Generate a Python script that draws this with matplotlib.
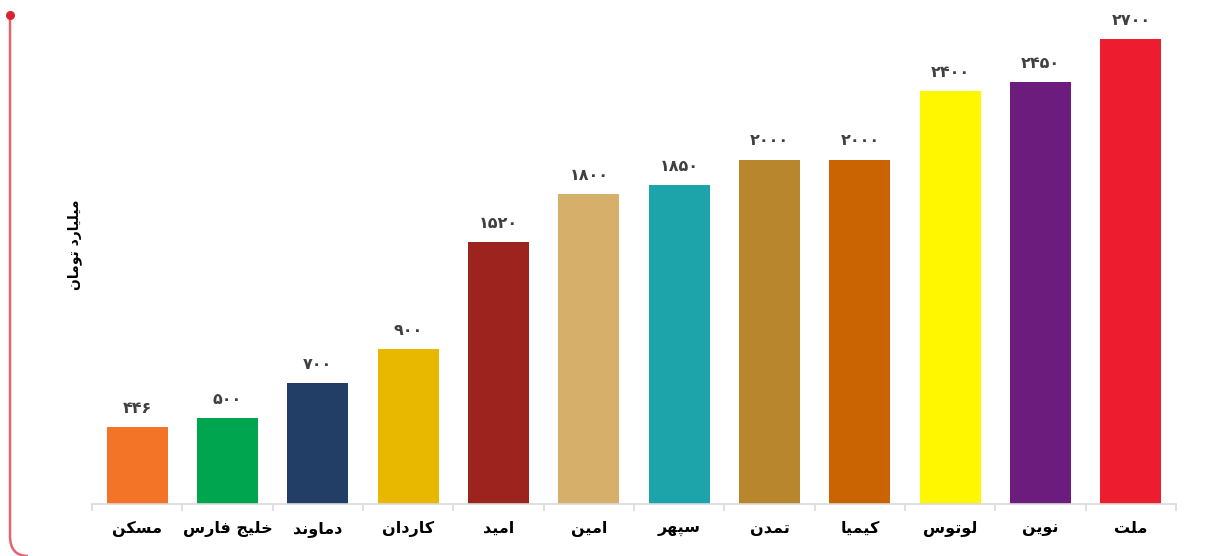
import matplotlib
matplotlib.use("Agg")
import matplotlib.pyplot as plt
from matplotlib.path import Path
from matplotlib.patches import PathPatch
from matplotlib.lines import Line2D
from matplotlib.ticker import FixedLocator

# ---------------- data ----------------
categories = ["مسکن", "خلیج فارس", "دماوند", "کاردان", "امید", "امین",
              "سپهر", "تمدن", "کیمیا", "لوتوس", "نوین", "ملت"]
values = [446, 500, 700, 900, 1520, 1800, 1850, 2000, 2000, 2400, 2450, 2700]
colors = ["#F37327", "#00A550", "#233E66", "#E8B800", "#9C231E", "#D6B06A",
          "#1DA3AA", "#B8862C", "#CA6402", "#FFF700", "#6B1C7D", "#EE1C2F"]
y_label = "میلیارد تومان"

# ---------------- minimal Arabic/Persian shaping ----------------
FORMS = {
    '\u0627': ('\uFE8D', '\uFE8E', None, None),      # alef
    '\u0628': ('\uFE8F', '\uFE90', '\uFE91', '\uFE92'),
    '\u067E': ('\uFB56', '\uFB57', '\uFB58', '\uFB59'),
    '\u062A': ('\uFE95', '\uFE96', '\uFE97', '\uFE98'),
    '\u062C': ('\uFE9D', '\uFE9E', '\uFE9F', '\uFEA0'),
    '\u062E': ('\uFEA5', '\uFEA6', '\uFEA7', '\uFEA8'),
    '\u062F': ('\uFEA9', '\uFEAA', None, None),
    '\u0631': ('\uFEAD', '\uFEAE', None, None),
    '\u0633': ('\uFEB1', '\uFEB2', '\uFEB3', '\uFEB4'),
    '\u0641': ('\uFED1', '\uFED2', '\uFED3', '\uFED4'),
    '\u0644': ('\uFEDD', '\uFEDE', '\uFEDF', '\uFEE0'),
    '\u0645': ('\uFEE1', '\uFEE2', '\uFEE3', '\uFEE4'),
    '\u0646': ('\uFEE5', '\uFEE6', '\uFEE7', '\uFEE8'),
    '\u0647': ('\uFEE9', '\uFEEA', '\uFEEB', '\uFEEC'),
    '\u0648': ('\uFEED', '\uFEEE', None, None),
    '\u06CC': ('\uFBFC', '\uFBFD', '\uFBFE', '\uFBFF'),
    '\u06A9': ('\uFB8E', '\uFB8F', '\uFB90', '\uFB91'),
}


def shape(text):
    chars = list(text)
    out = []
    for i, c in enumerate(chars):
        if c not in FORMS:
            out.append(c)
            continue
        iso, fin, ini, med = FORMS[c]
        prev = chars[i - 1] if i > 0 else None
        nxt = chars[i + 1] if i + 1 < len(chars) else None
        jp = prev in FORMS and FORMS[prev][2] is not None
        jn = ini is not None and nxt in FORMS
        if jp and jn:
            out.append(med)
        elif jp:
            out.append(fin)
        elif jn:
            out.append(ini)
        else:
            out.append(iso)
    return "".join(reversed(out))


PERSIAN_DIGITS = str.maketrans("0123456789", "۰۱۲۳۴۵۶۷۸۹")


def fa_num(v):
    return str(v).translate(PERSIAN_DIGITS)


# ---------------- figure ----------------
W, H = 1228, 556
fig = plt.figure(figsize=(W / 100, H / 100), dpi=100)
fig.patch.set_facecolor("white")

left_px, right_px = 92, 1176
bottom_px, top_px = 504, 13.2
ax = fig.add_axes([left_px / W, 1 - bottom_px / H,
                   (right_px - left_px) / W, (bottom_px - top_px) / H])

x = list(range(len(categories)))
ax.bar(x, values, width=0.675, color=colors, zorder=2)
ax.set_xlim(-0.5, len(categories) - 0.5)
ax.set_ylim(0, 2850)

for xi, v in zip(x, values):
    ax.annotate(fa_num(v), (xi, v), xytext=(0, 8), textcoords="offset points",
                ha="center", va="bottom", fontsize=11.5, fontweight="bold",
                color="#404040", family="DejaVu Sans")

for s in ["top", "right", "left"]:
    ax.spines[s].set_visible(False)
ax.spines["bottom"].set_color("#D9D9D9")
ax.spines["bottom"].set_linewidth(1.2)
ax.set_yticks([])

ax.set_xticks(x)
ax.set_xticklabels([shape(c) for c in categories], fontsize=11.5,
                   fontweight="bold", color="black", family="DejaVu Sans")
ax.tick_params(axis="x", which="major", length=0, pad=12)
ax.xaxis.set_minor_locator(FixedLocator([i - 0.5 for i in range(len(categories) + 1)]))
ax.tick_params(axis="x", which="minor", length=5, color="#D9D9D9", width=1.2)

fig.text(75 / W, 1 - 245 / H, shape(y_label), rotation=90, ha="center",
         va="center", fontsize=10, fontweight="bold", family="DejaVu Sans")

# decorative red border on the left with rounded bottom corner
verts = [(10, 15), (10, 536), (10, 556), (28, 556)]
codes = [Path.MOVETO, Path.LINETO, Path.CURVE3, Path.CURVE3]
verts_fig = [(vx / W, 1 - vy / H) for vx, vy in verts]
border = PathPatch(Path(verts_fig, codes), transform=fig.transFigure,
                   fill=False, edgecolor="#E5646C", linewidth=1.8)
fig.patches.append(border)
fig.add_artist(Line2D([10 / W], [1 - 15 / H], transform=fig.transFigure,
                      marker="o", markersize=5.5, color="#D9232F",
                      linestyle="none"))

fig.savefig("out.png", dpi=100, facecolor="white")
